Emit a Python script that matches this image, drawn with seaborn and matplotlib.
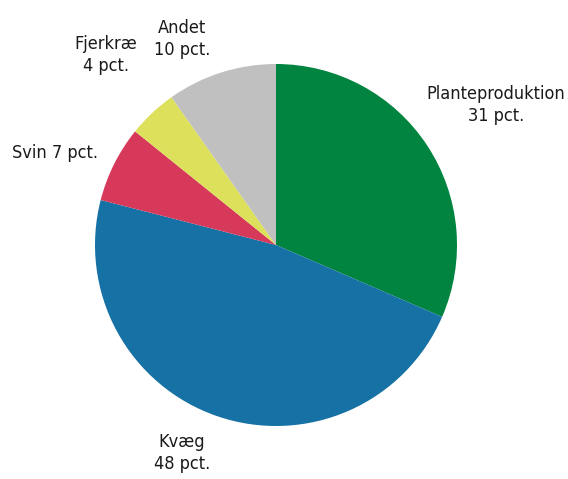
import matplotlib
matplotlib.use("Agg")
import matplotlib.pyplot as plt
import seaborn as sns

# Data
categories = ["Planteproduktion", "Kvæg", "Svin", "Fjerkræ", "Andet"]
shares = [31.5, 47.5, 6.8, 4.4, 9.8]
labels = ["Planteproduktion\n31 pct.", "Kvæg\n48 pct.", "Svin 7 pct.", "Fjerkræ\n4 pct.", "Andet\n10 pct."]
colors = ["#00843F", "#1671A5", "#D6395A", "#DCE05B", "#C0C0C0"]
# label centres, in pie radii from the centre
label_xy = [(1.215, 0.775), (-0.52, -1.15), (-1.22, 0.51), (-0.94, 1.05), (-0.52, 1.14)]

sns.set_theme(style="white")

W, H = 568, 479
fig = plt.figure(figsize=(W / 100, H / 100), dpi=100)
cx, cy, r = 276, 245, 181
ax = fig.add_axes([(cx - r) / W, (H - cy - r) / H, 2 * r / W, 2 * r / H])

wedges, _ = ax.pie(shares, colors=colors, startangle=90, counterclock=False,
                   radius=1, wedgeprops=dict(linewidth=0))
ax.set_xlim(-1, 1)
ax.set_ylim(-1, 1)
ax.axis("off")

for lab, (x, y) in zip(labels, label_xy):
    ax.text(x, y, lab, ha="center", va="center",
            fontsize=13, family="DejaVu Sans", fontstretch="condensed",
            color="#1a1a1a", linespacing=1.3, clip_on=False)

fig.savefig("out.png", dpi=100)
